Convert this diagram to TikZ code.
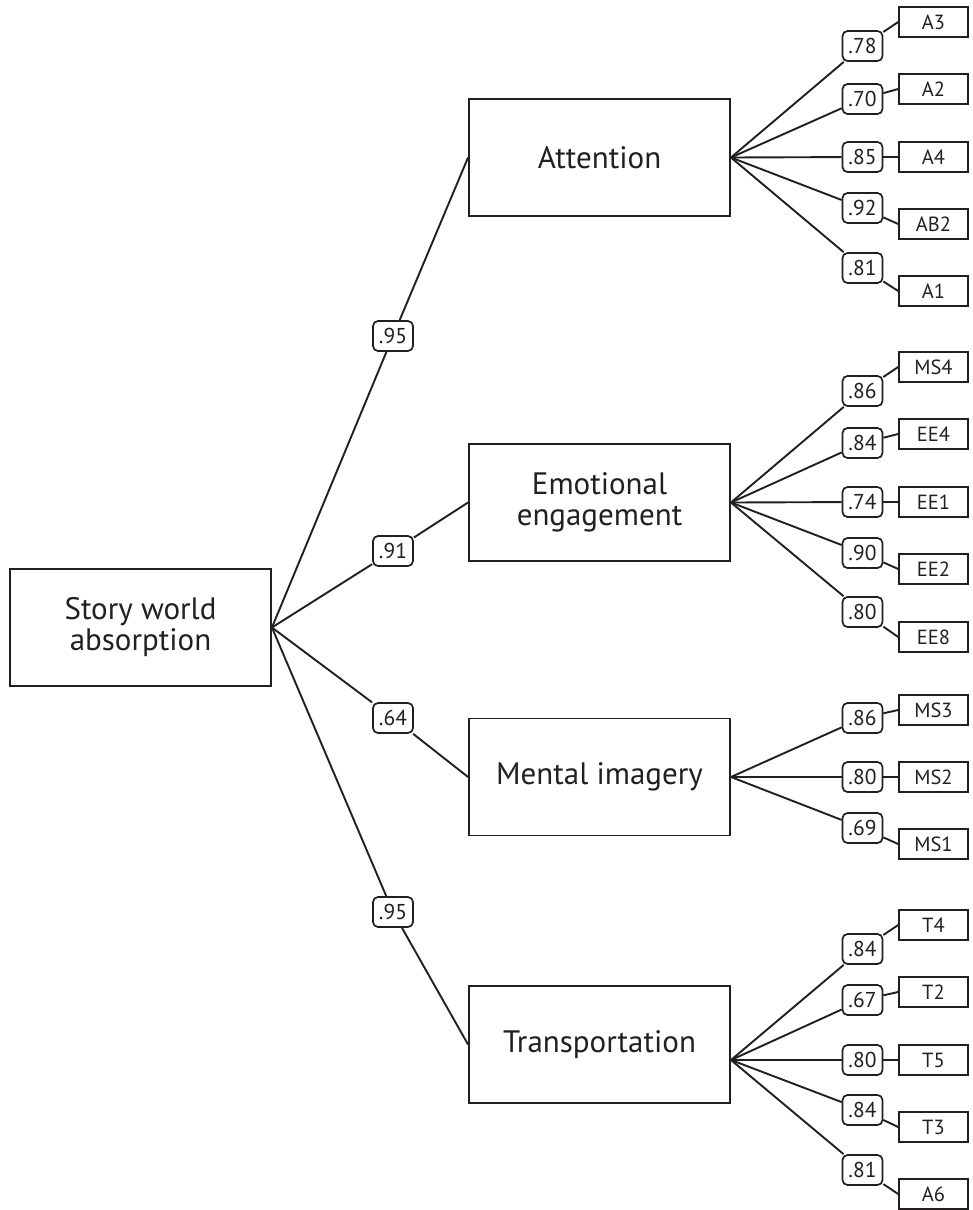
\documentclass[tikz,border=0pt]{standalone}
\usepackage{fontspec}
\setmainfont{PT Sans}
\definecolor{ink}{RGB}{35,31,32}
\begin{document}
\begin{tikzpicture}[x=1pt,y=-1pt,
  bigbox/.style={draw=ink, line width=1.9pt, minimum width=261pt, minimum height=117pt, inner sep=0pt, align=center, text=ink, font=\fontsize{31}{31}\selectfont},
  lab/.style={draw=ink, line width=1.7pt, rounded corners=5pt, fill=white, minimum width=40pt, minimum height=30pt, inner sep=0pt, text=ink, font=\fontsize{21.5}{22}\selectfont},
  itembox/.style={draw=ink, line width=1.7pt, minimum width=69pt, minimum height=30pt, inner sep=0pt, text=ink, font=\fontsize{20.5}{21}\selectfont},
  conn/.style={draw=ink, line width=1.9pt}]
\useasboundingbox (0,0) rectangle (972,1210);

% latent variables
\node[bigbox] (S) at (140.5,627.5) {Story world\\absorption};
\node[bigbox] (A) at (599.5,157.5) {Attention};
\node[bigbox] (E) at (599.5,502.5) {Emotional\\engagement};
\node[bigbox] (M) at (599.5,777) {Mental imagery};
\node[bigbox] (T) at (599.5,1044.5) {Transportation};
\coordinate (Tc) at (731,1060);

% second-order loadings
\node[lab] (sA) at (393,336) {.95};
\node[lab] (sE) at (393,551) {.91};
\node[lab] (sM) at (393,718) {.64};
\node[lab] (sT) at (393,912) {.95};
\foreach \f in {A,E,M,T}{
  \draw[conn] (S.east) -- (s\f);
  \draw[conn] (s\f) -- (\f.west);
}

% Attention indicators
\foreach \n/\ly/\iy/\l/\t in {1/46/22/.78/A3, 2/99/89/.70/A2, 3/157/157/.85/A4, 4/208/224/.92/AB2, 5/268/291/.81/A1}{
  \node[lab] (la\n) at (862.5,\ly) {\l};
  \node[itembox] (ia\n) at (933.5,\iy) {\t};
  \draw[conn] (A.east) -- (la\n);
  \draw[conn] (la\n) -- (ia\n.west);
}
% Emotional engagement indicators
\foreach \n/\ly/\iy/\l/\t in {1/391/367/.86/MS4, 2/443/434/.84/EE4, 3/502/502/.74/EE1, 4/553/569/.90/EE2, 5/612/637/.80/EE8}{
  \node[lab] (le\n) at (862.5,\ly) {\l};
  \node[itembox] (ie\n) at (933.5,\iy) {\t};
  \draw[conn] (E.east) -- (le\n);
  \draw[conn] (le\n) -- (ie\n.west);
}
% Mental imagery indicators
\foreach \n/\ly/\iy/\l/\t in {1/718/710/.86/MS3, 2/777/777/.80/MS2, 3/828/844/.69/MS1}{
  \node[lab] (lm\n) at (862.5,\ly) {\l};
  \node[itembox] (im\n) at (933.5,\iy) {\t};
  \draw[conn] (M.east) -- (lm\n);
  \draw[conn] (lm\n) -- (im\n.west);
}
% Transportation indicators
\foreach \n/\ly/\iy/\l/\t in {1/949/925/.84/T4, 2/1000/992/.67/T2, 3/1060/1060/.80/T5, 4/1110/1127/.84/T3, 5/1170/1194/.81/A6}{
  \node[lab] (lt\n) at (862.5,\ly) {\l};
  \node[itembox] (it\n) at (933.5,\iy) {\t};
  \draw[conn] (Tc) -- (lt\n);
  \draw[conn] (lt\n) -- (it\n.west);
}
\end{tikzpicture}
\end{document}
